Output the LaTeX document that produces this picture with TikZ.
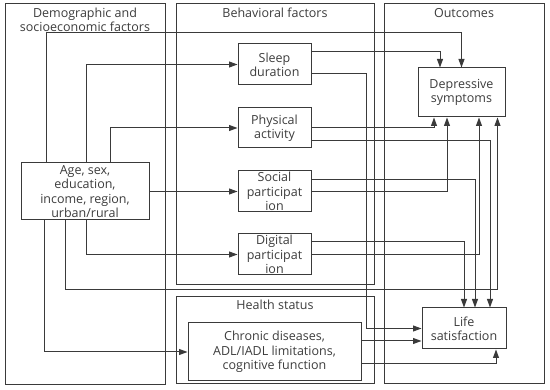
\documentclass[tikz,border=0pt]{standalone}
\usepackage{fontspec}
\setmainfont{Open Sans}
\usetikzlibrary{arrows.meta}
\definecolor{linec}{HTML}{3A3A3A}
\definecolor{textc}{HTML}{3C3C3C}
\begin{document}
\begin{tikzpicture}[x=1pt,y=-1pt,
  grp/.style={draw=linec, line width=1pt, inner sep=0pt},
  box/.style={draw=linec, line width=1pt, inner sep=0pt, align=center, text=textc,
    font=\fontsize{12.5}{14.3}\selectfont},
  ttl/.style={text=textc, align=center, inner sep=0pt, font=\fontsize{12.5}{14.3}\selectfont},
  arr/.style={draw=linec, line width=1pt, -{Triangle[length=8.5pt,width=6pt]}}]
\useasboundingbox (0,0) rectangle (550,390);
% group boxes
\node[grp, minimum width=160, minimum height=381] (gdemo) at (85,194.5) {};
\node[grp, minimum width=198, minimum height=281] (gbeh) at (275,144.5) {};
\node[grp, minimum width=198, minimum height=87] (ghealth) at (275,340.5) {};
\node[grp, minimum width=160, minimum height=380] (gout) at (464,194) {};
% titles
\node[ttl] (tdemo) at (85,20) {Demographic and\\socioeconomic factors};
\node[ttl] (tbeh) at (275,13) {Behavioral factors};
\node[ttl] (tout) at (464,13) {Outcomes};
\node[ttl] (thealth) at (275,305) {Health status};
% nodes
\node[box, minimum width=128, minimum height=57] (age) at (85,191.5) {Age, sex,\\education,\\income, region,\\urban/rural};
\node[box, minimum width=73, minimum height=41] (sleep) at (274.5,64.5) {Sleep\\duration};
\node[box, minimum width=73, minimum height=40] (phys) at (274.5,128) {Physical\\activity};
\node[box, minimum width=73, minimum height=41] (soc) at (274.5,191.5) {Social\\participat\\ion};
\node[box, minimum width=73, minimum height=41] (dig) at (274.5,254.5) {Digital\\participat\\ion};
\node[box, minimum width=87, minimum height=49] (dep) at (461.5,92.5) {Depressive\\symptoms};
\node[box, minimum width=84, minimum height=41] (life) at (464,328.5) {Life\\satisfaction};
\node[box, minimum width=173, minimum height=58] (chron) at (274.5,352) {Chronic diseases,\\ADL/IADL limitations,\\cognitive function};
% helper coordinates
\coordinate (x44) at (44,0);
\coordinate (x46) at (46,0);
\coordinate (x65) at (65,0);
\coordinate (x86) at (86,0);
\coordinate (x110) at (110,0);
\coordinate (x366) at (366,0);
\coordinate (x434) at (434,0);
\coordinate (x440) at (440,0);
\coordinate (x447) at (447,0);
\coordinate (x475) at (475,0);
\coordinate (x479) at (479,0);
\coordinate (x490) at (490,0);
\coordinate (x496) at (496,0);
\coordinate (x497) at (497.5,0);
\coordinate (y33) at (0,33);
\coordinate (y52) at (0,52);
\coordinate (y74) at (0,74);
\coordinate (y141) at (0,141);
\coordinate (y180) at (0,180);
\coordinate (y242) at (0,242);
\coordinate (y290) at (0,290);
\coordinate (y341) at (0,341);
\coordinate (y364) at (0,364);
% connectors from Age
\draw[arr] (age.north -| x46) |- (dep.north |- y33) -- (dep.north);
\draw[arr] (age.north -| x86) |- (sleep.west);
\draw[arr] (age.north -| x110) |- (phys.west);
\draw[arr] (age.east) -- (soc.west);
\draw[arr] (age.south -| x86) |- (dig.west);
\draw[arr] (age.south -| x65) |- (x497 |- y290) -- (dep.south -| x497);
\draw[arr] (age.south -| x44) |- (chron.west);
% behavioral
\draw[arr] (sleep.east |- y52) -| (dep.north -| x440);
\draw[arr] (sleep.east |- y74) -| (x366 |- life.west) -- (life.west);
\draw[arr] (phys.east) -| (dep.south -| x434);
\draw[arr] (phys.east |- y141) -| (life.north -| x490);
\draw[arr] (soc.east |- y180) -| (life.north -| x475);
\draw[arr] (soc.east) -| (dep.south -| x447);
\draw[arr] (dig.east |- y242) -| (life.north);
\draw[arr] (dig.east) -| (dep.south -| x479);
% health
\draw[arr] (chron.east |- y341) -- (life.west |- y341);
\draw[arr] (chron.east |- y364) -| (life.south -| x496);
\end{tikzpicture}
\end{document}
